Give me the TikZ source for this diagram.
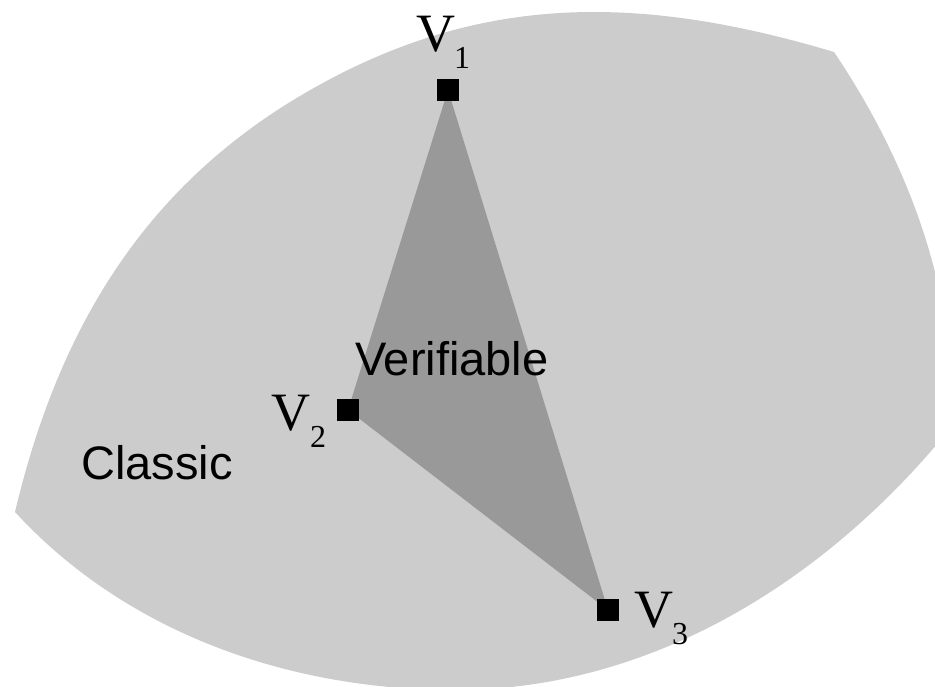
\documentclass[tikz,border=0pt]{standalone}
\usepackage{fontspec}
\setmainfont{Liberation Serif}
\newfontfamily\labelsans{Liberation Sans}
\definecolor{classicgray}{HTML}{CCCCCC}
\definecolor{verifgray}{HTML}{999999}
\tikzset{
  vertexbox/.style={fill=black, draw=none, minimum size=22pt, inner sep=0pt, outer sep=0pt},
  bigv/.style={anchor=base west, inner sep=0pt, font=\fontsize{54}{60}\selectfont},
  subdigit/.style={anchor=base west, inner sep=0pt, font=\fontsize{32}{36}\selectfont},
  regionlabel/.style={anchor=base west, inner sep=0pt, font=\labelsans\fontsize{47}{52}\selectfont},
}
\begin{document}
\begin{tikzpicture}[x=1pt,y=-1pt]
\useasboundingbox (0,0) rectangle (935,687);
\clip (0,0) rectangle (935,687);
% Classic region
\fill[classicgray]
  (15,512) .. controls (57.6,332.5) and (141,190.4) .. (300,96)
  .. controls (472,-6) and (633,-8) .. (834,52)
  .. controls (896,144) and (940.3,249.4) .. (950,360)
  -- (980,360) -- (980,416) -- (960,416)
  .. controls (835.8,574.9) and (656.6,690) .. (455,690)
  .. controls (289.8,690) and (126.8,633.6) .. (15,512)
  -- cycle;
% vertices
\coordinate (p1) at (448,90);
\coordinate (p2) at (348,410);
\coordinate (p3) at (608,610);
\fill[verifgray] (p1) -- (p2) -- (p3) -- cycle;
\node[vertexbox] (v1) at (p1) {};
\node[vertexbox] (v2) at (p2) {};
\node[vertexbox] (v3) at (p3) {};
% labels
\node[bigv] (l1) at (416,52) {V};
\node[subdigit] (s1) at (454,69) {1};
\node[bigv] (l2) at (271,430) {V};
\node[subdigit] (s2) at (310,447) {2};
\node[bigv] (l3) at (634,627) {V};
\node[subdigit] (s3) at (672,644) {3};
\node[regionlabel] (verif) at (355,375) {Verifiable};
\node[regionlabel] (classic) at (81,479) {Classic};
\end{tikzpicture}
\end{document}
